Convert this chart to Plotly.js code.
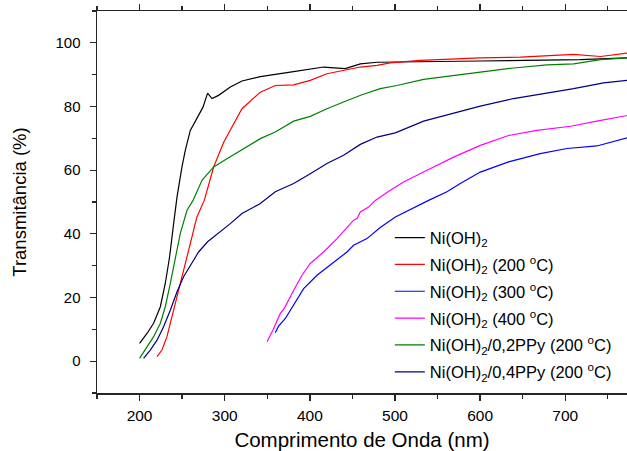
<!DOCTYPE html>
<html>
<head>
<meta charset="utf-8">
<script src="https://cdn.plot.ly/plotly-3.0.1.min.js"></script>
<style>html,body{margin:0;padding:0;background:#fff;}#chart{width:627px;height:451px;}</style>
</head>
<body>
<div id="chart"></div>
<script>
// Series names (legend labels)
var seriesNames = [
  "Ni(OH)<sub>2</sub>",
  "Ni(OH)<sub>2</sub> (200 <sup>o</sup>C)",
  "Ni(OH)<sub>2</sub> (300 <sup>o</sup>C)",
  "Ni(OH)<sub>2</sub> (400 <sup>o</sup>C)",
  "Ni(OH)<sub>2</sub>/0,2PPy (200 <sup>o</sup>C)",
  "Ni(OH)<sub>2</sub>/0,4PPy (200 <sup>o</sup>C)"
];
var seriesColors = ["#000000", "#ff0000", "#0000ff", "#ff00ff", "#008000", "#000080"];

// Ni(OH)2
var niX = [200, 208.7, 216.5, 224.4, 230.2, 235.3, 240, 244, 249.8, 253.7, 259.6, 265.5, 274.5, 279.9, 285.1, 292.8, 306.6, 320.3, 341.8, 377, 416.2, 441.6, 459.3, 478.9, 500, 600, 717.7, 773];
var niY = [5.6, 8.7, 11.9, 17.1, 24.4, 32.8, 43.2, 51.6, 61.0, 66.2, 72.5, 75.6, 79.8, 84.2, 82.5, 83.5, 86.1, 88.0, 89.4, 90.8, 92.4, 91.9, 93.4, 93.9, 94.0, 94.3, 94.7, 95.3];

// Ni(OH)2 (200 °C)
var t200X = [220.5, 226.3, 232.2, 238.1, 244, 251.7, 259.6, 267.4, 276, 287, 298.8, 320.3, 341.8, 359.4, 381, 400.5, 420.1, 439.6, 459.3, 478.9, 494.5, 529.7, 600.2, 647.2, 709.8, 741.5, 773];
var t200Y = [1.4, 3.5, 7.7, 13.9, 20.2, 28.6, 37.0, 45.3, 50.5, 61.0, 68.8, 79.3, 84.5, 86.6, 86.8, 88.2, 90.3, 91.3, 92.4, 92.9, 93.7, 94.5, 95.3, 95.5, 96.4, 95.7, 96.8];

// Ni(OH)2 (300 °C)
var t300X = [359.4, 363.3, 371.2, 381, 392.7, 408.4, 424.1, 443.6, 451.4, 467.1, 482.7, 500.4, 539.5, 561, 576.7, 600.2, 633.4, 670.6, 702, 737.1, 773];
var t300Y = [8.9, 11.0, 13.4, 17.6, 22.8, 27.0, 30.2, 34.3, 36.4, 38.5, 42.0, 45.3, 50.5, 53.2, 55.8, 59.4, 62.6, 65.2, 66.8, 67.6, 70.2];

// Ni(OH)2 (400 °C)
var t400X = [349.7, 356.7, 365.3, 370, 381, 390.8, 400.5, 416.2, 431.9, 451.4, 455.4, 459.3, 469, 476.9, 494.5, 510.1, 537.6, 568.8, 600.2, 633.4, 666.7, 706.3, 737.1, 773];
var t400Y = [6.1, 9.8, 15.0, 16.6, 22.3, 27.0, 30.7, 34.3, 38.5, 44.3, 44.8, 46.9, 48.4, 50.5, 53.7, 56.3, 60.0, 64.1, 67.8, 70.9, 72.5, 73.8, 75.4, 77.2];

// Ni(OH)2/0,2PPy (200 °C)
var p02X = [200, 208.7, 216.5, 224.4, 230.2, 236.1, 242, 247.8, 255.7, 262.8, 273.3, 287, 300.7, 318.3, 341.8, 359.4, 381, 400.5, 420.1, 439.6, 461.2, 482.7, 502.3, 533.6, 561, 600.2, 639.3, 678.5, 709.8, 741.5, 773];
var p02Y = [0.9, 4.5, 7.7, 11.9, 17.1, 24.4, 32.8, 40.1, 47.4, 50.5, 56.8, 61.0, 63.3, 66.2, 69.9, 72.0, 75.4, 76.9, 79.3, 81.4, 83.7, 85.6, 86.6, 88.5, 89.5, 90.8, 92.1, 93.1, 93.4, 94.7, 95.3];

// Ni(OH)2/0,4PPy (200 °C)
var p04X = [204.7, 212.6, 220.5, 228.2, 236.1, 244, 251.7, 259.6, 269.3, 279.9, 294.8, 306.6, 320.3, 341.8, 359.4, 381, 400.5, 420.1, 439.6, 459.3, 478.9, 500.4, 533.6, 561, 600.2, 639.3, 678.5, 709.8, 745, 773];
var p04Y = [0.9, 3.5, 6.6, 10.8, 16.0, 21.8, 26.5, 30.2, 34.3, 37.5, 40.6, 43.2, 46.4, 49.5, 53.2, 55.8, 58.9, 62.1, 64.7, 68.1, 70.4, 71.7, 75.4, 77.4, 80.1, 82.5, 84.2, 85.6, 87.4, 88.2];

var xs = [niX, t200X, t300X, t400X, p02X, p04X];
var ys = [niY, t200Y, t300Y, t400Y, p02Y, p04Y];

var traces = xs.map(function (x, i) {
  return {
    x: x, y: ys[i], type: "scatter", mode: "lines",
    name: seriesNames[i], legendgroup: "g" + i,
    line: {color: seriesColors[i], width: 1.2}
  };
});

var axisColor = "#262626";
var layout = {
  width: 627, height: 451,
  margin: {l: 97, r: 0, t: 11, b: 58, pad: 0},
  paper_bgcolor: "#ffffff", plot_bgcolor: "#ffffff",
  font: {family: "Arial, 'Liberation Sans', sans-serif", color: "#000", size: 15},
  showlegend: true,
  legend: {
    x: 0.5525, y: 0.452, xanchor: "left", yanchor: "top",
    bgcolor: "rgba(0,0,0,0)", borderwidth: 0,
    font: {size: 16.5, color: "#000"}, tracegroupgap: 2.4
  },
  xaxis: {
    range: [150, 772.5], showgrid: false, zeroline: false,
    showline: true, linecolor: axisColor, linewidth: 1.5, mirror: "ticks",
    ticks: "outside", ticklen: 6, tickwidth: 1.3, tickcolor: axisColor,
    tick0: 0, dtick: 100,
    minor: {dtick: 50, ticks: "outside", ticklen: 4, tickwidth: 1.3, tickcolor: axisColor},
    tickfont: {size: 15.5}, ticklabelstandoff: 2,
    title: {text: "Comprimento de Onda (nm)", font: {size: 20.5}, standoff: 11}
  },
  yaxis: {
    range: [-10, 110], showgrid: false, zeroline: false,
    showline: true, linecolor: axisColor, linewidth: 1.5, mirror: false,
    ticks: "outside", ticklen: 6, tickwidth: 1.3, tickcolor: axisColor,
    tick0: 0, dtick: 20,
    minor: {dtick: 10, ticks: "outside", ticklen: 4, tickwidth: 1.3, tickcolor: axisColor},
    tickfont: {size: 15}, ticklabelstandoff: 6,
    title: {text: "Transmitância (%)", font: {size: 18.5}, standoff: 24}
  }
};

Plotly.newPlot("chart", traces, layout, {displayModeBar: false, staticPlot: true});
</script>
</body>
</html>
